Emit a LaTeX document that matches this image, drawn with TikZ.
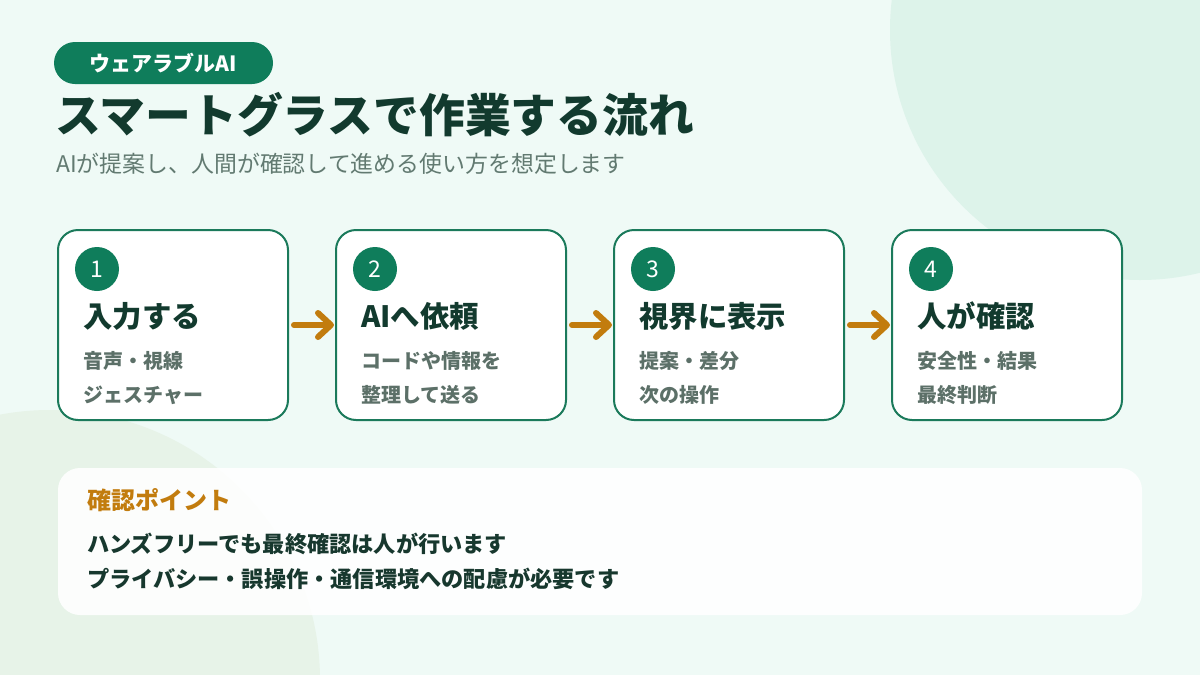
\documentclass[tikz,border=0pt]{standalone}
\usepackage{fontspec}
\setmainfont{Noto Sans CJK JP}
\usetikzlibrary{arrows.meta}
\definecolor{bgmint}{HTML}{EFFAF6}
\definecolor{circA}{HTML}{DDF3EA}
\definecolor{circB}{HTML}{E7F3E8}
\definecolor{brand}{HTML}{0F7D5B}
\definecolor{cardline}{HTML}{1B7A5B}
\definecolor{titlecol}{HTML}{123A2E}
\definecolor{subcol}{HTML}{627A71}
\definecolor{linecol}{HTML}{5C7068}
\definecolor{accent}{HTML}{C27C0E}
\definecolor{darktext}{HTML}{17382E}
\tikzset{
  pill/.style={fill=brand, rounded corners=21pt, minimum width=219pt, minimum height=42pt,
    inner sep=0pt, text=white, font=\bfseries\fontsize{21pt}{24pt}\selectfont},
  titletext/.style={anchor=west, inner sep=0pt, text=titlecol, font=\bfseries\fontsize{45.8pt}{52pt}\selectfont},
  subtext/.style={anchor=west, inner sep=0pt, text=subcol, font=\fontsize{22.9pt}{27pt}\selectfont},
  card/.style={draw=cardline, line width=2pt, fill=white, rounded corners=20pt,
    minimum width=230pt, minimum height=190pt, inner sep=0pt},
  numbadge/.style={circle, fill=brand, minimum size=44pt, inner sep=0pt, text=white,
    font=\fontsize{23pt}{26pt}\selectfont},
  headtext/.style={anchor=west, inner sep=0pt, text=titlecol, font=\bfseries\fontsize{29.4pt}{34pt}\selectfont},
  linetext/.style={anchor=west, inner sep=0pt, text=linecol, font=\bfseries\fontsize{20pt}{24pt}\selectfont},
  flowarrow/.style={draw=accent, line width=6pt, line cap=round,
    -{Straight Barb[length=13pt,width=24pt,round]}, shorten <=5pt, shorten >=1pt},
  notebox/.style={fill=white, fill opacity=0.9, rounded corners=22pt, minimum width=1084pt,
    minimum height=147pt, inner sep=0pt},
  notehead/.style={anchor=west, inner sep=0pt, text=accent, font=\bfseries\fontsize{24pt}{28pt}\selectfont},
  notetext/.style={anchor=west, inner sep=0pt, text=darktext, font=\bfseries\fontsize{22.2pt}{26pt}\selectfont}
}
\begin{document}
\begin{tikzpicture}[x=1pt,y=-1pt]
\useasboundingbox (0,0) rectangle (1200,675);
\fill[bgmint] (0,0) rectangle (1200,675);
\begin{scope}
  \clip (0,0) rectangle (1200,675);
  \fill[circA] (1140,30) circle[radius=250pt];
  \fill[circB] (50,680) circle[radius=270pt];
\end{scope}

\node[pill] (pill) at (163.5,63) {ウェアラブルAI};
\node[titletext] (title) at (55,115) {スマートグラスで作業する流れ};
\node[subtext] (subtitle) at (56,164) {AIが提案し、人間が確認して進める使い方を想定します};

\foreach \i/\x/\h/\a/\b in {1/173/入力する/音声・視線/ジェスチャー,
                            2/451/AIへ依頼/コードや情報を/整理して送る,
                            3/729/視界に表示/提案・差分/次の操作,
                            4/1007/人が確認/安全性・結果/最終判断}{
  \node[card] (c\i) at (\x,325) {};
  \node[numbadge] (n\i) at ([shift={(40,40)}]c\i.north west) {\i};
  \node[headtext] (h\i) at ([shift={(26,87)}]c\i.north west) {\h};
  \node[linetext] (la\i) at ([shift={(26,132)}]c\i.north west) {\a};
  \node[linetext] (lb\i) at ([shift={(26,166)}]c\i.north west) {\b};
}

\draw[flowarrow] (c1.east) -- (c2.west);
\draw[flowarrow] (c2.east) -- (c3.west);
\draw[flowarrow] (c3.east) -- (c4.west);

\node[notebox] (note) at (600,541.5) {};
\node[notehead] (nh) at ([shift={(29,32)}]note.north west) {確認ポイント};
\node[notetext] (nt1) at ([shift={(29,76)}]note.north west) {ハンズフリーでも最終確認は人が行います};
\node[notetext] (nt2) at ([shift={(29,111)}]note.north west) {プライバシー・誤操作・通信環境への配慮が必要です};
\end{tikzpicture}
\end{document}
